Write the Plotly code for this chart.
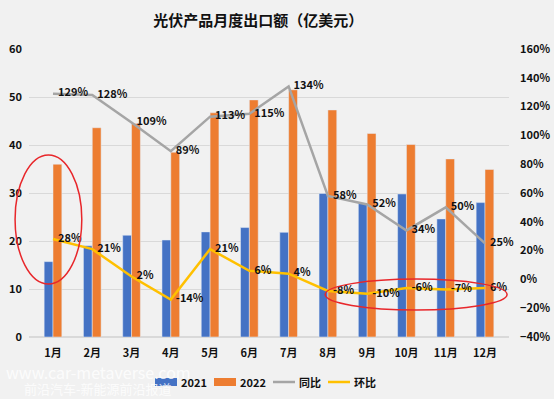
import plotly.graph_objects as go

months = ["1月", "2月", "3月", "4月", "5月", "6月", "7月", "8月", "9月", "10月", "11月", "12月"]
exports_2021 = [15.7, 19.0, 21.2, 20.2, 21.9, 22.8, 21.8, 29.9, 27.8, 29.8, 24.6, 28.0]
exports_2022 = [36.0, 43.6, 44.5, 38.5, 46.7, 49.4, 51.5, 47.3, 42.4, 40.1, 37.1, 34.9]
yoy = [129, 128, 109, 89, 113, 115, 134, 58, 52, 34, 50, 25]
mom = [28, 21, 2, -14, 21, 6, 4, -8, -10, -6, -7, -6]
mom_labels = ["28%", "21%", "2%", "-14%", "21%", "6%", "4%", "-8%", "-10%", "-6%", "-7%", "6%"]
yoy_labels = [f"{v}%" for v in yoy]

FONT = "Noto Sans CJK SC, Open Sans, sans-serif"
lbl_font = dict(family=FONT, size=11, color="#111111", weight="bold")
C21, C22, CYOY, CMOM = "#4472C4", "#ED7D31", "#A5A5A5", "#FFC000"

fig = go.Figure()
fig.add_trace(go.Bar(x=months, y=exports_2021, name="2021", marker_color=C21))
fig.add_trace(go.Bar(x=months, y=exports_2022, name="2022", marker_color=C22))
fig.add_trace(go.Scatter(x=months, y=yoy, name="同比", yaxis="y2", mode="lines+text",
                         line=dict(color=CYOY, width=2.5), text=["  " + t for t in yoy_labels],
                         textposition="middle right", textfont=lbl_font, cliponaxis=False))
fig.add_trace(go.Scatter(x=months, y=mom, name="环比", yaxis="y2", mode="lines+text",
                         line=dict(color=CMOM, width=2.5), text=["  " + t for t in mom_labels],
                         textposition="middle right", textfont=lbl_font, cliponaxis=False))

fig.update_layout(
    width=554, height=399,
    margin=dict(l=29, r=45, t=49, b=62, autoexpand=False),
    paper_bgcolor="#f1f1f1", plot_bgcolor="#f1f1f1",
    font=dict(family=FONT, size=11, color="#111111"),
    barmode="group", bargap=0.55, bargroupgap=0,
    title=dict(text="<b>光伏产品月度出口额（亿美元）</b>", x=0.466, xanchor="center",
               y=0.947, yanchor="middle", font=dict(family=FONT, size=15, color="#111111")),
    xaxis=dict(showgrid=False, showline=False, ticks="", automargin=False, ticklabelstandoff=8,
               tickfont=dict(family=FONT, size=11, weight="bold")),
    yaxis=dict(range=[0, 60], dtick=10, showgrid=True, gridcolor="#d9d9d9", gridwidth=1,
               zeroline=True, zerolinecolor="#d9d9d9", ticklabelstandoff=6, automargin=False,
               tickfont=dict(family=FONT, size=11, weight="bold")),
    yaxis2=dict(range=[-40, 160], dtick=20, ticksuffix="%", overlaying="y", side="right",
                showgrid=False, zeroline=False, ticklabelstandoff=10, automargin=False,
                tickfont=dict(family=FONT, size=11, weight="bold")),
    showlegend=False,
)

# ellipses highlighting
fig.add_shape(type="circle", xref="paper", yref="paper", x0=-0.029, x1=0.110, y0=0.184, y1=0.632,
              line=dict(color="#E8272B", width=1.5))
fig.add_shape(type="circle", xref="paper", yref="paper", x0=0.617, x1=0.996, y0=0.094, y1=0.201,
              line=dict(color="#E8272B", width=1.5))

# watermark
fig.add_annotation(text="www.car-metaverse.com", xref="paper", yref="paper", x=-0.052, y=-0.12,
                   xanchor="left", yanchor="middle", showarrow=False,
                   font=dict(family=FONT, size=16, color="rgba(255,255,255,0.8)"))
fig.add_annotation(text="前沿汽车-新能源前沿报道", xref="paper", yref="paper", x=-0.015, y=-0.18,
                   xanchor="left", yanchor="middle", showarrow=False,
                   font=dict(family=FONT, size=13, color="rgba(255,255,255,0.8)"))

# custom legend (pixel -> paper conversion)
def px(x):
    return (x - 29) / 480

def py(y):
    return (337 - y) / 288

ly = 382
leg = [("2021", "bar", C21, 155), ("2022", "bar", C22, 214), ("同比", "line", CYOY, 273), ("环比", "line", CMOM, 328)]
for name, kind, col, x0 in leg:
    if kind == "bar":
        fig.add_shape(type="rect", xref="paper", yref="paper", x0=px(x0), x1=px(x0 + 22),
                      y0=py(ly + 4), y1=py(ly - 4), fillcolor=col, line=dict(width=0))
    else:
        fig.add_shape(type="line", xref="paper", yref="paper", x0=px(x0), x1=px(x0 + 22),
                      y0=py(ly), y1=py(ly), line=dict(color=col, width=2.5))
    fig.add_annotation(text=f"<b>{name}</b>", xref="paper", yref="paper", x=px(x0 + 24), y=py(ly),
                       xanchor="left", yanchor="middle", showarrow=False,
                       font=dict(family=FONT, size=11, color="#111111"))

fig.write_html("out.html", config={"displayModeBar": False},
               post_script="document.body.style.margin='0';document.body.style.background='#f1f1f1';")
